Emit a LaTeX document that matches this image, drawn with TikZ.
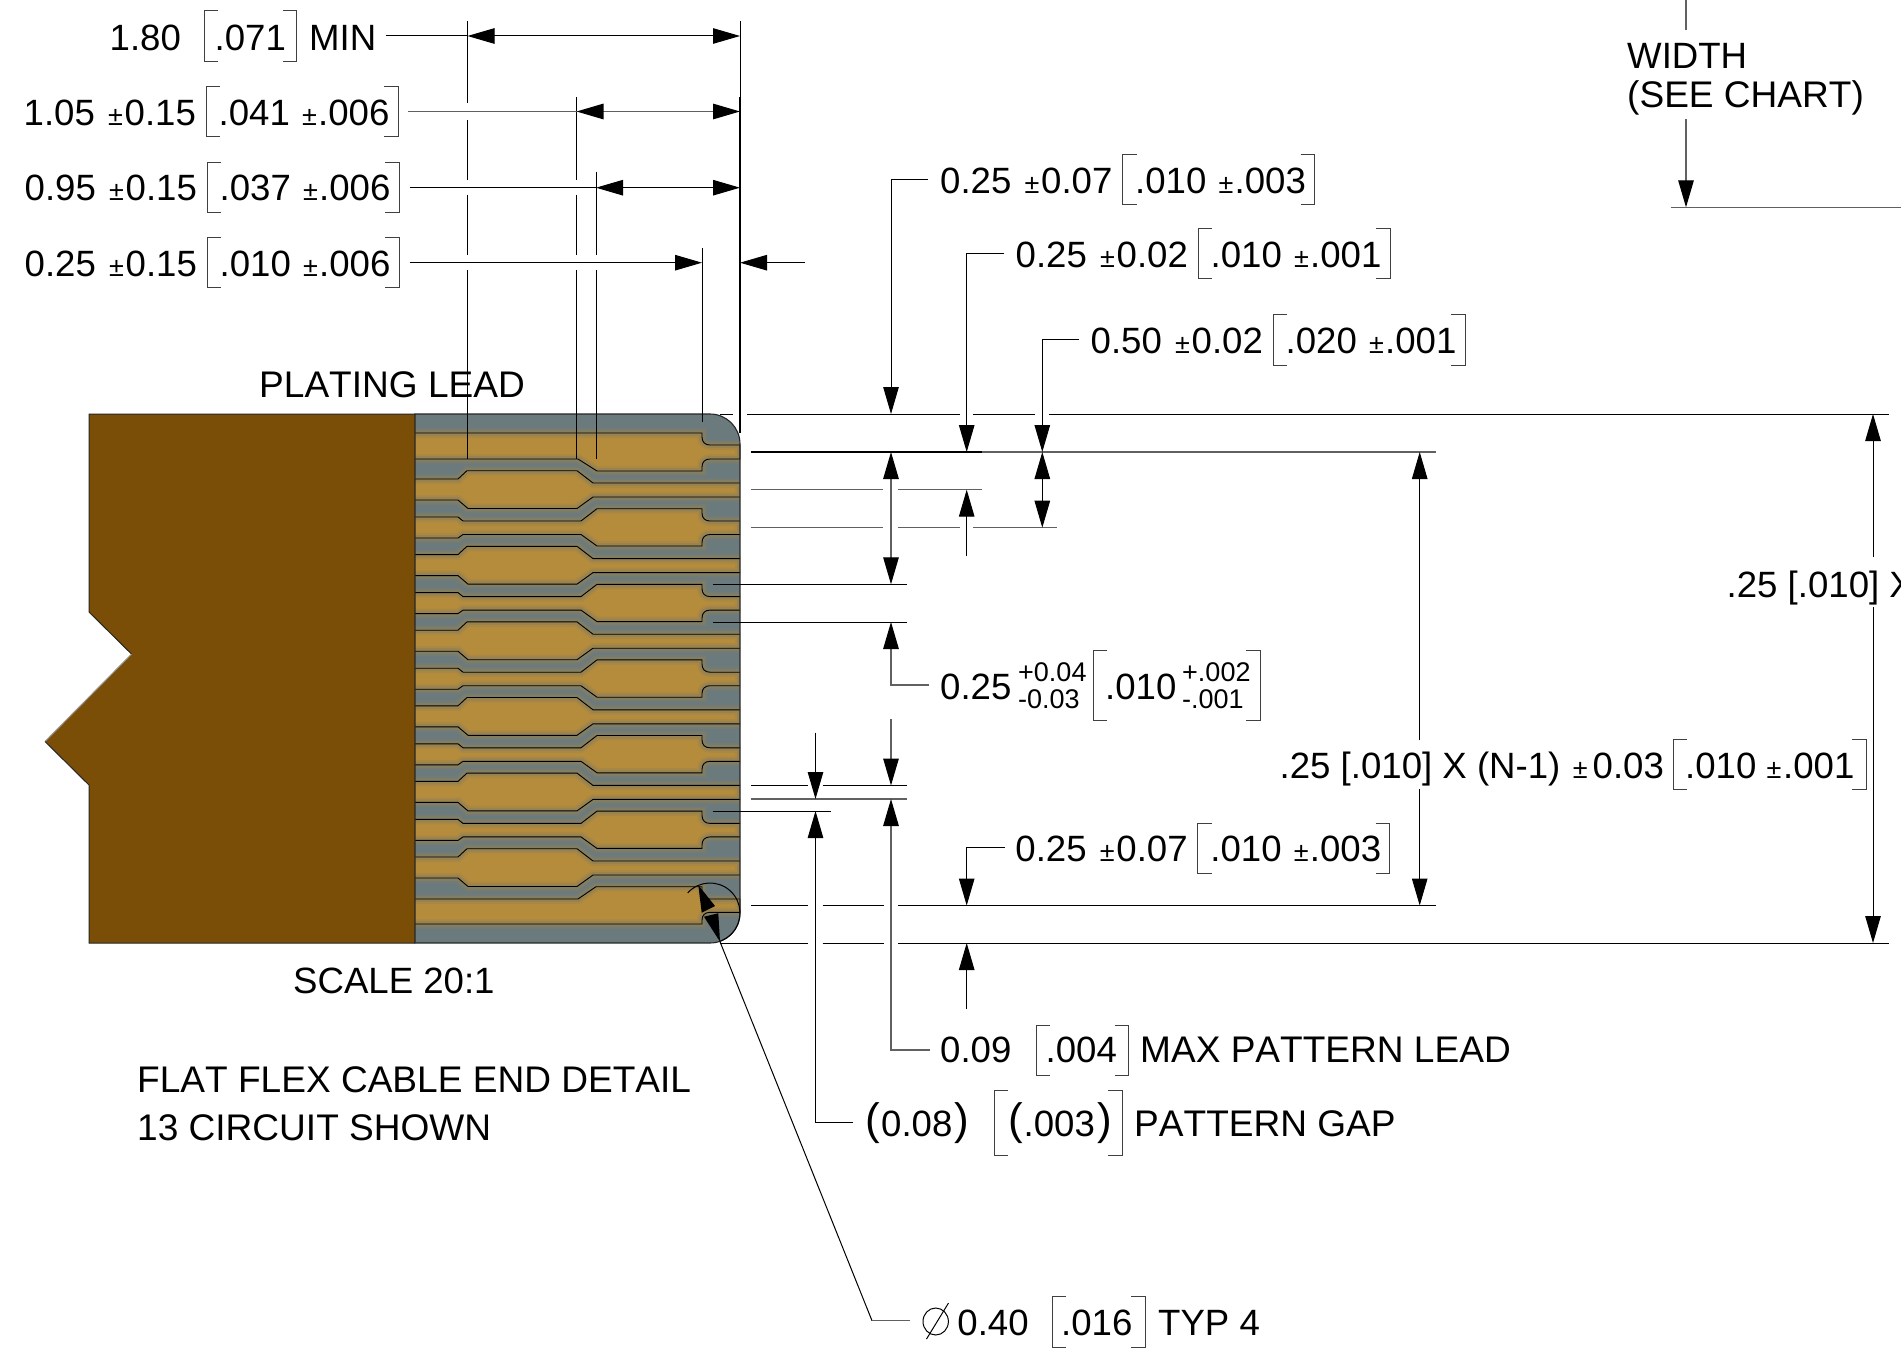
\documentclass[tikz,border=0pt]{standalone}
\usepackage{fontspec}
\setmainfont[Kerning=Off]{Liberation Sans}
\usetikzlibrary{arrows.meta}
\definecolor{brownpart}{RGB}{122,78,6}
\definecolor{copperpart}{RGB}{181,140,60}
\definecolor{greypart}{RGB}{107,122,125}
\definecolor{blendpart}{RGB}{140,128,90}
\newcounter{tn}
\newcommand{\T}[3]{\stepcounter{tn}\node[txt] (t\arabic{tn}) at (#1,#2) {#3};}
\newcommand{\Tc}[3]{\stepcounter{tn}\node[txc] (t\arabic{tn}) at (#1,#2) {#3};}
\newcommand{\Sm}[3]{\stepcounter{tn}\node[txs] (t\arabic{tn}) at (#1,#2) {#3};}
\newcommand{\Tb}[3]{\stepcounter{tn}\node[txb] (t\arabic{tn}) at (#1,#2) {#3};}
\newcommand{\brk}[4]{\draw[brk] ({#1+14},#3)--(#1,#3)--(#1,#4)--({#1+14},#4);\draw[brk] ({#2-14},#3)--(#2,#3)--(#2,#4)--({#2-14},#4);}
\newcommand{\dimrow}[6]{%
 \T{#1-1.5}{#2}{#3}\Sm{#1+83}{#2}{±}\T{#1+99.5}{#2}{#4}%
 \brk{#1+181}{#1+373}{#2-37.5}{#2+12.5}%
 \T{#1+193.5}{#2}{#5}\Sm{#1+277}{#2}{±}\T{#1+293}{#2}{#6}}
\tikzset{
 txt/.style={anchor=base west,inner sep=0pt,yshift=-0.7pt,font=\fontsize{36.6}{40}\selectfont},
 txc/.style={anchor=base west,inner sep=0pt,yshift=-0.7pt,font=\fontsize{37.05}{40}\selectfont},
 txs/.style={anchor=base west,inner sep=0pt,yshift=-0.7pt,font=\fontsize{27}{29}\selectfont},
 txb/.style={anchor=base west,inner sep=0pt,font=\fontsize{44}{48}\selectfont},
 brk/.style={line width=1pt,black!75},
 dl/.style={line width=1pt,black},
 dg/.style={line width=1.3pt,black!62},
 dk/.style={line width=1.7pt,black},
 dtip/.tip={Triangle[length=27pt,width=15.5pt,color=black]},
 edge/.style={line width=0.9pt,black},
 glow/.style={line width=6pt,blendpart,opacity=.6},
 glowb/.style={line width=10pt,blendpart,opacity=.25},
}
\newcommand{\evenpath}[1]{(415,479+#1)--(458,479+#1)--(467,470.7+#1)--(577,470.7+#1)--(593,483+#1)--(740,483+#1)--(740,497+#1)--(593,497+#1)--(577,508.5+#1)--(468,508.5+#1)--(458,500+#1)--(415,500+#1)}
\newcommand{\oddpath}[1]{(415,517+#1)--(458,517+#1)--(463,521+#1)--(581,521+#1)--(597,508.7+#1)--(702,508.7+#1)--(702,513+#1) .. controls (702,518+#1) and (705,521+#1) .. (710,521+#1)--(740,521+#1)--(740,534.5+#1)--(710,534.5+#1) .. controls (705,534.5+#1) and (702,537.5+#1) .. (702,542.5+#1)--(702,546+#1)--(597,546+#1)--(581,534.5+#1)--(463,534.5+#1)--(458,538+#1)--(415,538+#1)}
\newcommand{\firstpath}{(415,433)--(702,433)--(702,437) .. controls (702,442) and (705,445) .. (710,445)--(740,445)--(740,459)--(710,459) .. controls (705,459) and (702,462) .. (702,467)--(702,471)--(597,471)--(578,459)--(415,459)}
\newcommand{\lastpath}{(415,899)--(578,899)--(596,886.7)--(702,886.7)--(702,891) .. controls (702,896) and (705,899) .. (710,899)--(740,899)--(740,912.3)--(710,912.3) .. controls (705,912.3) and (702,915.3) .. (702,920)--(702,924)--(415,924)}
\begin{document}
\begin{tikzpicture}[x=1pt,y=-1pt]
\useasboundingbox (0,0) rectangle (1901,1356);
\fill[white] (0,0) rectangle (1901,1356);
% flex cable body
\fill[brownpart] (89,414)--(415,414)--(415,943)--(89,943)--(89,785)--(45,741.5)--(131.5,654)--(89,612)--cycle;
\draw[line width=1pt,black!85] (415,414)--(89,414)--(89,612)--(131.5,654);
\draw[line width=1pt,black!40] (131.5,654)--(45,741.5);
\draw[line width=1pt,black!85] (45,741.5)--(89,785)--(89,943)--(415,943);
\begin{scope}
 \clip (415,414)--(710,414) arc[start angle=-90,end angle=0,radius=30]--(740,913) arc[start angle=0,end angle=90,radius=30]--(415,943)--cycle;
 \fill[greypart] (415,414) rectangle (740,943);
 \fill[copperpart] \firstpath--cycle;
 \fill[copperpart] \lastpath--cycle;
 \foreach \k in {0,...,5}{
  \pgfmathsetmacro\d{\k*75.6}
  \fill[copperpart] \evenpath{\d}--cycle;
 }
 \foreach \k in {0,...,4}{
  \pgfmathsetmacro\d{\k*75.6}
  \fill[copperpart] \oddpath{\d}--cycle;
 }
 \draw[glowb] \firstpath;
 \draw[glow] \firstpath;
 \draw[glowb] \lastpath;
 \draw[glow] \lastpath;
 \foreach \k in {0,...,5}{
  \pgfmathsetmacro\d{\k*75.6}
  \draw[glowb] \evenpath{\d};
  \draw[glow] \evenpath{\d};
 }
 \foreach \k in {0,...,4}{
  \pgfmathsetmacro\d{\k*75.6}
  \draw[glowb] \oddpath{\d};
  \draw[glow] \oddpath{\d};
 }
\end{scope}
\draw[edge] \firstpath;
\draw[edge] \lastpath;
\foreach \k in {0,...,5}{
 \pgfmathsetmacro\d{\k*75.6}
 \draw[edge] (415,{479+\d})--(458,{479+\d})--(467,{470.7+\d})--(577,{470.7+\d})--(593,{483+\d})--(740,{483+\d});
 \draw[edge] (740,{497+\d})--(593,{497+\d})--(577,{508.5+\d})--(468,{508.5+\d})--(458,{500+\d})--(415,{500+\d});
}
\foreach \k in {0,...,4}{
 \pgfmathsetmacro\d{\k*75.6}
 \draw[edge] (415,{517+\d})--(458,{517+\d})--(463,{521+\d})--(581,{521+\d})--(597,{508.7+\d})--(702,{508.7+\d})--(702,{513+\d}) .. controls (702,{518+\d}) and (705,{521+\d}) .. (710,{521+\d})--(740,{521+\d});
 \draw[edge] (740,{534.5+\d})--(710,{534.5+\d}) .. controls (705,{534.5+\d}) and (702,{537.5+\d}) .. (702,{542.5+\d})--(702,{546+\d})--(597,{546+\d})--(581,{534.5+\d})--(463,{534.5+\d})--(458,{538+\d})--(415,{538+\d});
}
\draw[line width=1.1pt,black!85] (415,414)--(710,414) arc[start angle=-90,end angle=0,radius=30]--(740,913) arc[start angle=0,end angle=90,radius=30]--(415,943)--cycle;
% extension lines, left block
\draw[dl] (467.5,21)--(467.5,103) (467.5,120)--(467.5,180) (467.5,195)--(467.5,255) (467.5,270)--(467.5,459);
\draw[dl] (576.5,97)--(576.5,180) (576.5,195)--(576.5,255) (576.5,270)--(576.5,459);
\draw[dl] (596,172)--(596,255) (596,270)--(596,459);
\draw[dl] (702,248)--(702,422);
\draw[dl] (740,21)--(740,97);
\draw[dk] (740,97)--(740,433);
% left dimension lines
\draw[dl] (385.5,36)--(467.5,36);
\draw[dl,dtip-dtip] (467.5,36)--(740,36);
\draw[dg] (408,111.5)--(576.5,111.5);
\draw[dg,dtip-dtip] (576.5,111.5)--(740,111.5);
\draw[dl] (409.5,187.7)--(596,187.7);
\draw[dl,dtip-dtip] (596,187.7)--(740,187.7);
\draw[dl,-dtip] (409.5,262.7)--(702,262.7);
\draw[dl,-dtip] (805,262.7)--(740,262.7);
% left texts
\T{109.5}{50}{1.80}\brk{204}{296.5}{11}{62}\T{214.5}{50}{.071}\T{309}{50}{MIN}
\dimrow{25}{124.5}{1.05}{0.15}{.041}{.006}
\dimrow{26}{200}{0.95}{0.15}{.037}{.006}
\dimrow{26}{275.5}{0.25}{0.15}{.010}{.006}
% horizontal extension lines
\draw[dl] (720,414)--(733,414) (747,414)--(960,414) (973,414)--(1035,414) (1049,414)--(1889,414);
\draw[dk] (750.7,452)--(981.7,452);
\draw[dg] (981.7,452)--(1435.5,452);
\draw[dg] (750.7,489.7)--(883,489.7) (898,489.7)--(981.7,489.7);
\draw[dg] (750.7,527.7)--(883,527.7) (898,527.7)--(960,527.7) (973,527.7)--(1057,527.7);
\draw[dl] (713,584.3)--(906.7,584.3);
\draw[dl] (713,622)--(906.7,622);
\draw[dl] (751,785.5)--(808,785.5) (822.7,785.5)--(906.7,785.5);
\draw[dg] (751,799)--(906.7,799);
\draw[dl] (713,811)--(830.7,811);
\draw[dl] (751,905.5)--(808,905.5) (822.7,905.5)--(883.7,905.5) (898.3,905.5)--(1435.5,905.5);
\draw[dl] (720,943)--(808,943) (822.7,943)--(883.7,943) (898.3,943)--(1889,943);
% right leaders and arrows
\draw[dl,-dtip] (927.5,179.5)--(891,179.5)--(891,414);
\draw[dl,-dtip] (1004,253.4)--(966.7,253.4)--(966.7,452);
\draw[dl,-dtip] (1079,339.5)--(1042.3,339.5)--(1042.3,452);
\draw[dl,dtip-dtip] (1042.3,452)--(1042.3,527.7);
\draw[dl,-dtip] (966.7,556)--(966.7,489.7);
\draw[dg,dtip-dtip] (891,452)--(891,584.3);
\draw[dg,-dtip] (929,685)--(891,685)--(891,622);
\draw[dl,-dtip] (815.5,732.7)--(815.5,799);
\draw[dl,-dtip] (853,1122)--(815.5,1122)--(815.5,811);
\draw[dg,-dtip] (891,719)--(891,785.5);
\draw[dg,-dtip] (929.6,1050)--(891,1050)--(891,799);
\draw[dl,-dtip] (1005,847.7)--(966.7,847.7)--(966.7,905.5);
\draw[dl,-dtip] (966.7,1009)--(966.7,943);
\draw[dl,-dtip] (1419.7,740)--(1419.7,452);
\draw[dl,-dtip] (1419.7,789)--(1419.7,905.5);
\draw[dl,-dtip] (1873,557)--(1873,414);
\draw[dl,-dtip] (1873,607)--(1873,943);
% right texts
\dimrow{941.5}{192.5}{0.25}{0.07}{.010}{.003}
\dimrow{1017}{266.4}{0.25}{0.02}{.010}{.001}
\dimrow{1092}{352.5}{0.50}{0.02}{.020}{.001}
\dimrow{1016.7}{860.7}{0.25}{0.07}{.010}{.003}
\T{940}{698.3}{0.25}\Sm{1018}{681}{+0.04}\Sm{1018}{707.3}{-0.03}
\brk{1093}{1260}{650}{720}\T{1105}{698.3}{.010}\Sm{1182}{681}{+.002}\Sm{1182}{707.3}{-.001}
\T{1279.5}{777.7}{.25 [.010] X (N-1)}\Sm{1572.7}{777.7}{±}\T{1592.5}{777.7}{0.03}
\brk{1673}{1866}{739}{789}\T{1685}{777.7}{.010}\Sm{1766.4}{777.7}{±}\T{1783}{777.7}{.001}
\T{1726.5}{596.7}{.25 [.010] X}
\T{940}{1062}{0.09}\brk{1036}{1128.6}{1025}{1075}\T{1045.5}{1062}{.004}\Tc{1140}{1062}{MAX PATTERN LEAD}
\Tb{865.5}{1134}{(}\T{881}{1136}{0.08}\Tb{954}{1134}{)}
\brk{994}{1122}{1090}{1155}
\Tb{1008.5}{1134}{(}\T{1023.5}{1136}{.003}\Tb{1097}{1134}{)}\Tc{1134}{1136}{PATTERN GAP}
% diameter symbol, drawn as in the drawing
\draw[line width=1pt,black] (935.7,1321.5) ellipse [x radius=12.7,y radius=13.5];
\draw[line width=1pt,black] (948.5,1303)--(926.5,1339);
\T{957.2}{1335}{0.40}\brk{1052}{1145}{1296}{1347}\T{1061}{1335}{.016}\T{1158}{1335}{TYP 4}
% corner radius callout
\draw[line width=1pt,black] (710,913)++(-138:30) arc[start angle=-138,end angle=71,radius=30];
\fill[black] (698.3,885)--(701.7,912.7)--(715,906)--cycle;
\fill[black] (720,941.7)--(704,916.7)--(718.3,913.3)--cycle;
\coordinate (calloutA) at (720,941.7);
\coordinate (calloutB) at (872,1320.7);
\coordinate (calloutC) at (910,1320.7);
\draw[dl] (calloutA)--(calloutB);
\draw[dg] (calloutB)--(calloutC);
% captions
\Tc{259}{397}{PLATING LEAD}
\T{293}{992.7}{SCALE 20:1}
\Tc{137}{1092}{FLAT FLEX CABLE END DETAIL}
\Tc{137}{1140}{13 CIRCUIT SHOWN}
% width callout
\draw[dg] (1686,0)--(1686,30);
\draw[dg,-dtip] (1686,119)--(1686,207.3);
\draw[dg] (1670.7,207.3)--(1901,207.3);
\T{1627}{68.3}{WIDTH}
\Tc{1627}{107.3}{(SEE CHART)}
\end{tikzpicture}
\end{document}
